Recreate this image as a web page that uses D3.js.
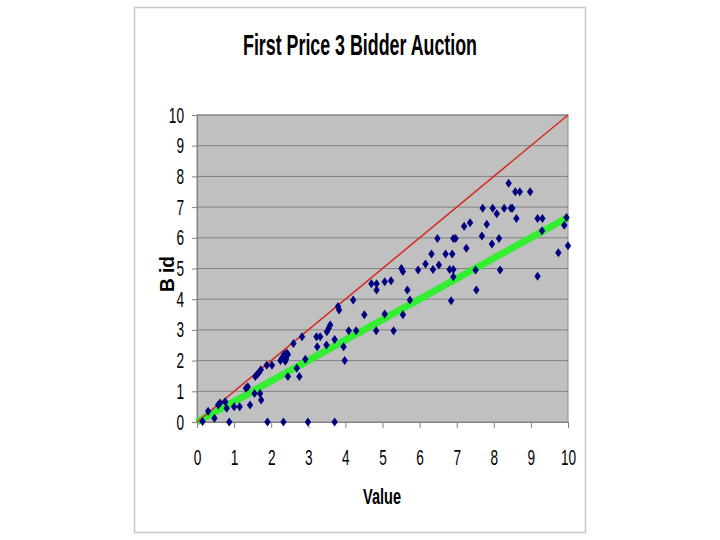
<!DOCTYPE html>
<html>
<head>
<meta charset="utf-8">
<script src="https://cdn.jsdelivr.net/npm/d3@7"></script>
<style>
  body { margin: 0; background: #fff; }
  text { font-family: "Liberation Sans", Arial, sans-serif; }
</style>
</head>
<body>
<script>
// values
var values = [0.15, 0.30, 0.47, 0.57, 0.62, 0.76, 0.80, 0.87, 1.00, 1.15,
    1.43, 1.32, 1.37, 1.55, 1.70, 1.73, 1.57, 1.62, 1.66, 1.72,
    1.88, 2.02, 1.90, 2.33, 2.99, 3.71, 2.25, 2.30, 2.35, 2.40,
    2.42, 2.38, 2.45, 2.45, 2.60, 2.83, 2.69, 2.76, 2.92, 3.22,
    3.32, 3.24, 3.49, 3.50, 3.55, 3.59, 3.71, 3.80, 3.83, 3.95,
    3.98, 4.09, 4.29, 4.21, 4.51, 4.70, 4.84, 4.84, 4.83, 5.06,
    5.23, 5.06, 5.30, 5.51, 5.55, 5.55, 5.67, 5.74, 5.96, 6.16,
    6.32, 6.36, 6.48, 6.52, 6.70, 6.81, 6.85, 6.88, 6.91, 6.97,
    6.91, 6.91, 7.26, 7.20, 7.36, 7.51, 7.53, 7.68, 7.70, 7.81,
    7.95, 7.97, 8.08, 8.14, 8.17, 8.28, 8.40, 8.46, 8.50, 8.61,
    8.58, 8.70, 8.98, 9.18, 9.31, 9.18, 9.30, 9.74, 9.90, 9.96,
    10.0];
var bids = [0.02, 0.35, 0.12, 0.55, 0.62, 0.66, 0.45, 0.00, 0.50, 0.50,
    0.55, 1.10, 1.15, 0.93, 0.93, 0.72, 1.48, 1.55, 1.60, 1.70,
    1.85, 1.85, 0.00, 0.00, 0.00, 0.00, 2.00, 2.10, 2.20, 2.05,
    2.25, 1.98, 2.20, 1.48, 2.56, 2.78, 1.75, 1.48, 2.04, 2.78,
    2.78, 2.45, 2.51, 2.94, 3.05, 3.16, 2.69, 3.76, 3.65, 2.45,
    2.00, 2.97, 2.97, 3.97, 3.49, 4.50, 4.50, 4.30, 2.97, 4.57,
    4.60, 3.52, 2.97, 5.00, 4.90, 3.49, 4.30, 3.97, 4.95, 5.15,
    5.47, 4.97, 5.98, 5.11, 5.47, 4.97, 3.95, 5.47, 5.98, 5.98,
    4.97, 4.73, 5.66, 6.38, 6.49, 4.95, 4.30, 6.06, 6.96, 6.44,
    5.80, 6.96, 6.78, 5.98, 4.95, 6.96, 7.78, 6.96, 6.96, 6.63,
    7.50, 7.50, 7.50, 6.63, 6.63, 4.75, 6.23, 5.51, 6.41, 6.66,
    5.74];

// 45 degree line and equilibrium bid line
var diagX = [0, 10], diagY = [0, 10];
var fitX = [0, 10], fitY = [0, 6.67];

var tickValues = [0, 1, 2, 3, 4, 5, 6, 7, 8, 9, 10];

var margin = { top: 115, right: 152, bottom: 118, left: 197 },
    width = 720 - margin.left - margin.right,
    height = 540 - margin.top - margin.bottom;

var svg = d3.select("body")
    .append("svg")
    .attr("width", 720)
    .attr("height", 540);

// outer frame
svg.append("rect")
    .attr("x", 134.5).attr("y", 7.5)
    .attr("width", 451).attr("height", 525)
    .attr("fill", "#fff")
    .attr("stroke", "#c8c8c8")
    .attr("stroke-width", 1.5);

svg.append("text")
    .attr("x", 360).attr("y", 55)
    .attr("text-anchor", "middle")
    .attr("font-size", 30)
    .attr("font-weight", "bold")
    .attr("textLength", 234)
    .attr("lengthAdjust", "spacingAndGlyphs")
    .text("First Price 3 Bidder Auction");

var main = svg.append("g")
    .attr("transform", "translate(" + margin.left + "," + margin.top + ")");

var x = d3.scaleLinear().domain([0, 10]).range([0, width]);
var y = d3.scaleLinear().domain([0, 10]).range([height, 0]);

main.append("rect")
    .attr("width", width).attr("height", height)
    .attr("fill", "#c0c0c0")
    .attr("stroke", "#8c8c8c");

// gridlines
main.selectAll(".grid")
    .data(tickValues.slice(1))
    .enter().append("line")
    .attr("class", "grid")
    .attr("x1", 0).attr("x2", width)
    .attr("y1", function (d) { return y(d); })
    .attr("y2", function (d) { return y(d); })
    .attr("stroke", "#808080")
    .attr("stroke-width", 1);

var xAxis = d3.axisBottom(x).tickValues(tickValues).tickSize(6).tickPadding(21),
    yAxis = d3.axisLeft(y).tickValues(tickValues).tickSize(5).tickPadding(7);

var gX = main.append("g")
    .attr("transform", "translate(0," + height + ")")
    .call(xAxis);
var gY = main.append("g").call(yAxis);

var sx = 0.62;
[gX, gY].forEach(function (g) {
    g.select(".domain").attr("stroke", "#808080");
    g.selectAll(".tick line").attr("stroke", "#808080");
    g.selectAll(".tick text")
        .attr("font-size", 22)
        .attr("fill", "#000")
        .attr("font-family", "'Liberation Sans', Arial, sans-serif")
        .attr("transform", "scale(" + sx + ",1)");
});
gY.selectAll(".tick text").attr("x", -13 / sx);

// axis titles
svg.append("text")
    .attr("x", 382).attr("y", 504)
    .attr("text-anchor", "middle")
    .attr("font-size", 22)
    .attr("font-weight", "bold")
    .attr("textLength", 38)
    .attr("lengthAdjust", "spacingAndGlyphs")
    .text("Value");

svg.append("text")
    .attr("transform", "translate(174,274) rotate(-90)")
    .attr("text-anchor", "middle")
    .attr("font-size", 20)
    .attr("font-weight", "bold")
    .attr("textLength", 36)
    .attr("lengthAdjust", "spacingAndGlyphs")
    .text("B id");

var line = d3.line()
    .x(function (d) { return x(d[0]); })
    .y(function (d) { return y(d[1]); });

main.append("path")
    .attr("d", line(d3.zip(fitX, fitY)))
    .attr("stroke", "#33ee33")
    .attr("stroke-width", 7)
    .attr("fill", "none");

main.append("path")
    .attr("d", line(d3.zip(diagX, diagY)))
    .attr("stroke", "#d42a1e")
    .attr("stroke-width", 1.5)
    .attr("fill", "none");

main.selectAll(".pt")
    .data(d3.zip(values, bids))
    .enter().append("path")
    .attr("class", "pt")
    .attr("transform", function (d) { return "translate(" + x(d[0]) + "," + y(d[1]) + ")"; })
    .attr("d", "M0,-4.5L3.2,0L0,4.5L-3.2,0Z")
    .attr("fill", "#000080");
</script>
</body>
</html>
